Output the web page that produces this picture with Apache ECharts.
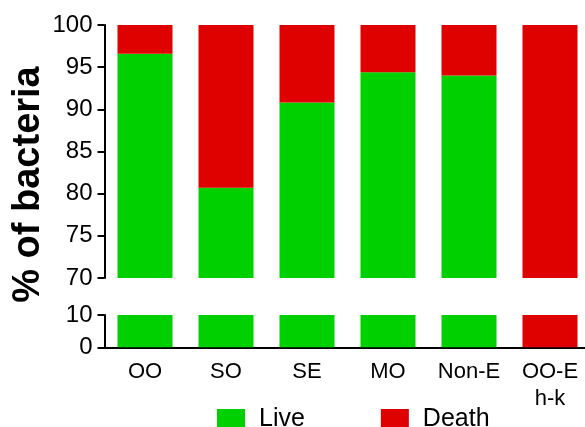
<!DOCTYPE html>
<html>
<head>
<meta charset="utf-8">
<script src="https://cdn.jsdelivr.net/npm/echarts@6/dist/echarts.min.js"></script>
<style>html,body{margin:0;padding:0;background:#fff}#c{width:585px;height:427px}</style>
</head>
<body>
<div id="c"></div>
<script>
const categories = ['OO', 'SO', 'SE', 'MO', 'Non-E', 'OO-E\nh-k'];
const live = [96.6, 80.7, 90.8, 94.4, 94.0, 0];
const death = [3.4, 19.3, 9.2, 5.6, 6.0, 100];
const topTicks = [70, 75, 80, 85, 90, 95, 100];
const bottomTicks = [0, 10];

const GREEN = '#00cf00';
const RED = '#df0000';
const FONT = 'Liberation Sans, Arial, sans-serif';

const chart = echarts.init(document.getElementById('c'), null, {renderer: 'canvas'});

function barSeries(name, data, color, idx) {
  return {
    name: name, type: 'bar', stack: 's' + idx, data: data,
    xAxisIndex: idx, yAxisIndex: idx,
    barWidth: 55, clip: true,
    itemStyle: {color: color},
    emphasis: {disabled: true}
  };
}

chart.setOption({
  animation: false,
  color: [GREEN, RED],
  grid: [
    {left: 104.5, top: 25, width: 486, height: 253, containLabel: false, outerBoundsMode: 'none'},
    {left: 104.5, top: 315, width: 486, height: 32.3, containLabel: false, outerBoundsMode: 'none'}
  ],
  xAxis: [
    {type: 'category', gridIndex: 0, data: categories, show: false},
    {type: 'category', gridIndex: 1, data: categories,
      axisLine: {lineStyle: {color: '#000', width: 2}},
      axisTick: {show: false},
      axisLabel: {color: '#000', fontSize: 22, fontFamily: FONT, margin: 11, lineHeight: 27, interval: 0}
    }
  ],
  yAxis: [
    {type: 'value', gridIndex: 0, min: topTicks[0], max: topTicks[topTicks.length - 1], interval: 5,
      axisLine: {show: true, lineStyle: {color: '#000', width: 2}},
      axisTick: {show: true, length: 7, lineStyle: {color: '#000', width: 2}},
      axisLabel: {color: '#000', fontSize: 24, fontFamily: FONT, margin: 12},
      splitLine: {show: false}
    },
    {type: 'value', gridIndex: 1, min: bottomTicks[0], max: bottomTicks[bottomTicks.length - 1], interval: 10,
      axisLine: {show: true, lineStyle: {color: '#000', width: 2}},
      axisTick: {show: true, length: 7, lineStyle: {color: '#000', width: 2}},
      axisLabel: {color: '#000', fontSize: 24, fontFamily: FONT, margin: 12},
      splitLine: {show: false}
    }
  ],
  legend: {
    data: ['Live', 'Death'],
    left: 217, top: 407,
    itemWidth: 28, itemHeight: 21, itemGap: 76,
    icon: 'rect',
    textStyle: {color: '#000', fontSize: 25, fontFamily: FONT, padding: [3, 0, 0, 9]},
    padding: 0
  },
  graphic: [{
    type: 'text',
    x: 29, y: 184.5,
    rotation: Math.PI / 2,
    style: {
      text: '% of bacteria',
      fill: '#000',
      font: 'bold 38px ' + FONT,
      textAlign: 'center',
      textVerticalAlign: 'middle'
    }
  }],
  series: [
    barSeries('Live', live, GREEN, 0),
    barSeries('Death', death, RED, 0),
    barSeries('Live', live, GREEN, 1),
    barSeries('Death', death, RED, 1)
  ]
});
</script>
</body>
</html>
